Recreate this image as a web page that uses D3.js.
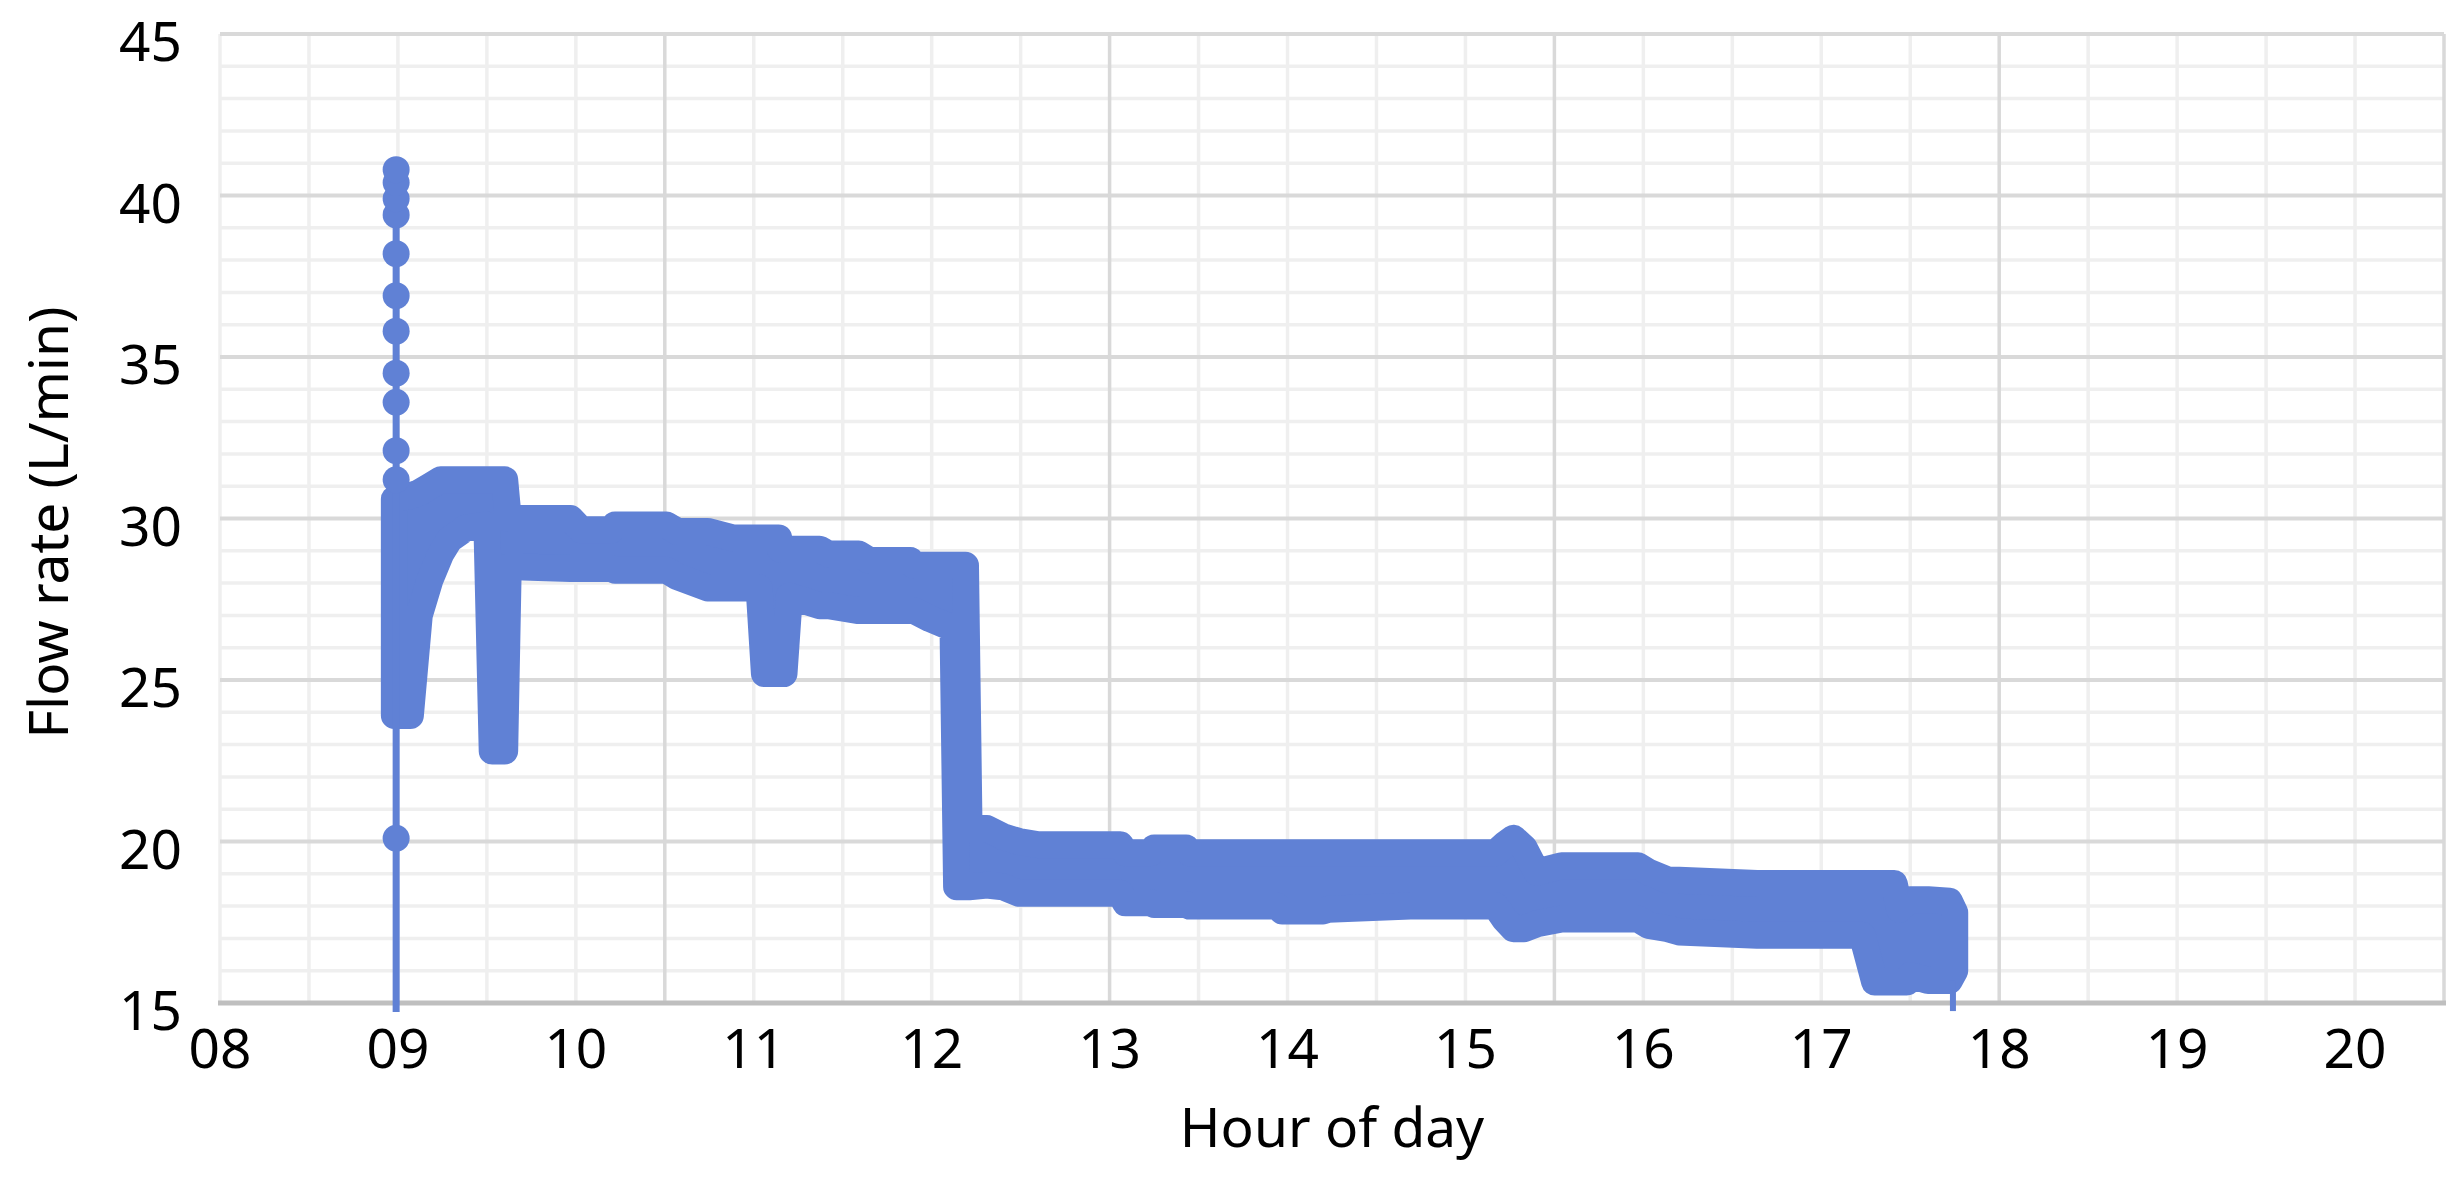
<!DOCTYPE html>
<html>
<head>
<meta charset="utf-8">
<script src="https://cdn.jsdelivr.net/npm/d3@7"></script>
<style>
  html, body { margin: 0; padding: 0; background: #ffffff; }
  svg { display: block; }
  text { font-family: "Noto Sans", "Open Sans", sans-serif; fill: #000; }
</style>
</head>
<body>
<svg id="chart" width="2463" height="1177"></svg>
<script>
// ---- data ----
// x tick labels (hour of day)
const xTickHours = [8, 9, 10, 11, 12, 13, 14, 15, 16, 17, 18, 19, 20];
const xTickLabels = ["08", "09", "10", "11", "12", "13", "14", "15", "16", "17", "18", "19", "20"];
// y tick labels
const yTickValues = [15, 20, 25, 30, 35, 40, 45];

// Dense flow-rate record drawn as an envelope of marker centres:
// hour of day, lowest marker centre, highest marker centre (L/min)
const bandHours = [8.98, 9.07, 9.12, 9.18, 9.24, 9.29, 9.38, 9.50, 9.53, 9.60, 9.62,
  9.70, 9.97, 10.03, 10.20, 10.22, 10.51, 10.57, 10.74, 10.88, 10.97,
  11.03, 11.06, 11.14, 11.15, 11.17, 11.20, 11.37, 11.42, 11.59, 11.65, 11.88, 11.90, 11.99, 12.12,
  12.14, 12.19, 12.21, 12.31, 12.40, 12.49, 12.60, 13.06, 13.09, 13.23, 13.25, 13.43, 13.45,
  13.94, 13.97, 14.20, 14.23, 14.69, 15.17, 15.22, 15.27, 15.33, 15.40, 15.54, 15.97,
  16.03, 16.14, 16.20, 16.64, 16.76, 17.23, 17.30, 17.41, 17.44, 17.48, 17.50, 17.60, 17.72, 17.75];
const bandLow = [23.9, 23.9, 27.0, 28.1, 28.9, 29.35, 29.7, 29.8, 22.8, 22.8, 28.5,
  28.5, 28.45, 28.45, 28.45, 28.4, 28.4, 28.2, 27.85, 27.85, 27.85,
  27.85, 25.2, 25.2, 25.2, 25.2, 27.6, 27.3, 27.3, 27.15, 27.15, 27.15, 27.15, 26.9, 26.6,
  18.6, 18.6, 18.6, 18.65, 18.6, 18.4, 18.4, 18.4, 18.1, 18.1, 18.05, 18.05, 18.0,
  18.0, 17.85, 17.85, 17.9, 18.0, 18.0, 17.6, 17.3, 17.3, 17.45, 17.6, 17.6,
  17.4, 17.3, 17.2, 17.1, 17.1, 17.1, 15.65, 15.65, 15.65, 15.65, 15.85, 15.7, 15.7, 16.0];
const bandHigh = [30.6, 30.7, 30.8, 31.0, 31.2, 31.2, 31.2, 31.2, 31.2, 31.2, 30.0,
  30.0, 30.0, 29.65, 29.65, 29.8, 29.8, 29.6, 29.6, 29.4, 29.4,
  29.4, 29.4, 29.4, 29.05, 29.05, 29.05, 29.05, 28.9, 28.9, 28.7, 28.7, 28.55, 28.55, 28.55,
  28.55, 28.55, 20.4, 20.4, 20.15, 20.0, 19.9, 19.9, 19.65, 19.65, 19.8, 19.8, 19.65,
  19.65, 19.65, 19.65, 19.65, 19.65, 19.65, 19.9, 20.1, 19.8, 19.05, 19.25, 19.25,
  19.05, 18.8, 18.8, 18.7, 18.7, 18.7, 18.7, 18.7, 17.9, 18.15, 18.2, 18.2, 18.15, 17.8];

// start-up spike just before 09:00 (single markers) and its connecting line
const spikeHour = 8.99;
const spikeValues = [14.72, 20.1, 31.2, 32.1, 33.6, 34.5, 35.8, 36.9, 38.2, 39.4, 39.9, 40.4, 40.8];
// last reading dropping below the axis
const tailHour = 17.74;
const tailValues = [15.7, 14.75];

// ---- drawing ----
const W = 2463, H = 1177;
const margin = { left: 220, right: 19, top: 34, bottom: 174 };
const svg = d3.select("#chart");

const x = d3.scaleLinear().domain([8, 20.5]).range([margin.left, W - margin.right]);
const y = d3.scaleLinear().domain([15, 45]).range([H - margin.bottom, margin.top]);

const blue = "#6081d5";
const g = svg.append("g");

// minor horizontal gridlines (every 1 L/min)
const hMinor = d3.range(16, 45).filter(v => v % 5 !== 0);
g.selectAll(".hmin").data(hMinor).join("line")
  .attr("x1", x(8)).attr("x2", x(20.5))
  .attr("y1", d => y(d)).attr("y2", d => y(d))
  .attr("stroke", "#efefef").attr("stroke-width", 3.5);

// vertical gridlines (minor each half-hour, major each 2.5 h)
const vAll = d3.range(0, 26).map(i => 8 + i * 0.5);
const isMajorV = h => Math.abs(((h - 8) / 2.5) - Math.round((h - 8) / 2.5)) < 1e-6 && h > 8;
g.selectAll(".vmin").data(vAll.filter(h => !isMajorV(h))).join("line")
  .attr("x1", d => x(d)).attr("x2", d => x(d))
  .attr("y1", y(45)).attr("y2", y(15))
  .attr("stroke", "#efefef").attr("stroke-width", 3.5);

// major horizontal gridlines (every 5)
g.selectAll(".hmaj").data([20, 25, 30, 35, 40, 45]).join("line")
  .attr("x1", x(8)).attr("x2", x(20.5))
  .attr("y1", d => y(d)).attr("y2", d => y(d))
  .attr("stroke", "#d9d9d9").attr("stroke-width", 4);

g.selectAll(".vmaj").data(vAll.filter(isMajorV)).join("line")
  .attr("x1", d => x(d)).attr("x2", d => x(d))
  .attr("y1", y(45)).attr("y2", y(15))
  .attr("stroke", "#d9d9d9").attr("stroke-width", 3.5);

// x axis line
g.append("line")
  .attr("x1", x(8) - 2).attr("x2", x(20.5) + 2)
  .attr("y1", y(15)).attr("y2", y(15))
  .attr("stroke", "#bfbfbf").attr("stroke-width", 5);

// data band
const band = bandHours.map((h, i) => ({ h, lo: bandLow[i], hi: bandHigh[i] }));
const area = d3.area()
  .x(d => x(d.h))
  .y0(d => y(d.lo))
  .y1(d => y(d.hi));
g.append("path")
  .attr("d", area(band))
  .attr("fill", blue)
  .attr("stroke", blue)
  .attr("stroke-width", 27)
  .attr("stroke-linejoin", "round");

// spike line and markers
const line = d3.line().x(d => x(d[0])).y(d => y(d[1]));
g.append("path")
  .attr("d", line(spikeValues.map(v => [spikeHour, v])))
  .attr("fill", "none").attr("stroke", blue).attr("stroke-width", 7);
g.selectAll(".spk").data(spikeValues.slice(1)).join("circle")
  .attr("cx", x(spikeHour)).attr("cy", d => y(d)).attr("r", 13.5)
  .attr("fill", blue);

// tail line
g.append("path")
  .attr("d", line(tailValues.map(v => [tailHour, v])))
  .attr("fill", "none").attr("stroke", blue).attr("stroke-width", 6);

// tick labels
const fs = 55;
svg.selectAll(".yt").data(yTickValues).join("text")
  .attr("x", margin.left - 38)
  .attr("y", d => y(d) + 27)
  .attr("text-anchor", "end")
  .attr("font-size", fs)
  .text(d => d);

svg.selectAll(".xt").data(xTickHours).join("text")
  .attr("x", d => x(d))
  .attr("y", 1068)
  .attr("text-anchor", "middle")
  .attr("font-size", fs)
  .text((d, i) => xTickLabels[i]);

// axis titles
svg.append("text")
  .attr("x", (x(8) + x(20.5)) / 2)
  .attr("y", 1147)
  .attr("text-anchor", "middle")
  .attr("font-size", fs)
  .text("Hour of day");

svg.append("text")
  .attr("transform", `translate(68, ${(y(15) + y(45)) / 2 + 4}) rotate(-90)`)
  .attr("text-anchor", "middle")
  .attr("font-size", fs)
  .text("Flow rate (L/min)");
</script>
</body>
</html>
